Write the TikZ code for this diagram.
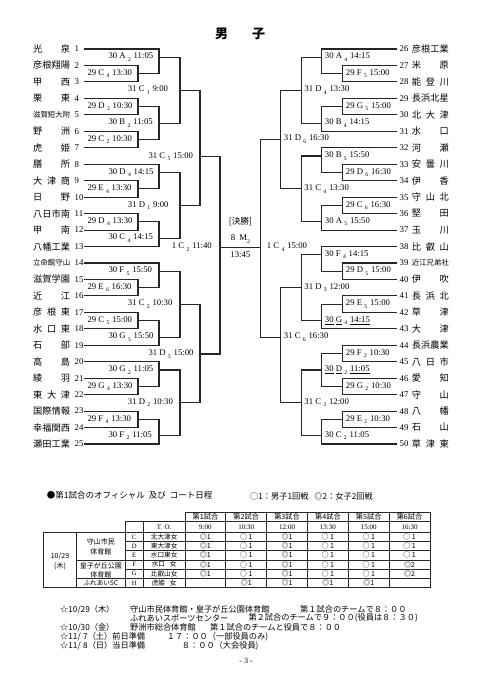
\documentclass[tikz,border=0pt]{standalone}
\usepackage{fontspec}
\setmainfont{Liberation Serif}
\newfontfamily\cjk{Noto Sans CJK JP}
\newcommand{\lb}[4]{#1 #2\hspace{2.4pt}\raisebox{-2.4pt}{\fontsize{5.7}{6}\selectfont #3}\hspace{2.8pt}#4}
\newcommand{\lbu}[4]{\underline{#1} \underline{#2}\hspace{2.4pt}\raisebox{-2.4pt}{\fontsize{5.7}{6}\selectfont #3}\hspace{2.8pt}\underline{#4}}
\newcommand{\tn}[1]{\makebox[37pt][s]{#1}}
\newcommand{\tns}[1]{\makebox[37pt][s]{\fontsize{7.4}{8}\selectfont #1}}
\newcommand{\mt}[5]{\draw[br] (#1,{#2}) -- (#1,{#3}); \draw[br] (#1,{#4}) -- (#5,{#4});}
\begin{document}
\begin{tikzpicture}[x=1pt,y=-1pt,
  declare function={ty(\i)=49+16.46*(\i-1); ry(\k)=49+16.46*(\k-26);
    pm(\a)=(ty(\a)+ty(\a+1))/2; rpm(\a)=(ry(\a)+ry(\a+1))/2;},
  br/.style={line width=1.1pt,draw=black!85,line cap=rect},
  lab/.style={font=\fontsize{8.7}{9}\selectfont,inner sep=0pt,anchor=west},
  tname/.style={font=\cjk\fontsize{9.2}{10}\selectfont,inner sep=0pt,anchor=west},
  tnum/.style={font=\fontsize{8.8}{10}\selectfont,inner sep=0pt,anchor=west},
  tb/.style={line width=0.8pt,draw=black!85},
  tt/.style={font=\cjk\fontsize{6.6}{7}\selectfont,inner sep=0pt},
  ts/.style={font=\fontsize{6.6}{7}\selectfont,inner sep=0pt},
  note/.style={font=\cjk\fontsize{8.2}{9}\selectfont,inner sep=0pt,anchor=west},
]
\useasboundingbox (0,0) rectangle (481,680);
\fill[white] (0,0) rectangle (481,680);

% title
\node[font=\cjk\bfseries\fontsize{13}{14}\selectfont,inner sep=0pt] (title) at (240,34) {男\hspace{24pt}子};

% ---------- left side ----------
\pgfmathsetmacro\lA{(ty(1)+ty(2))/2}
\pgfmathsetmacro\lB{(pm(4)+pm(6))/2}
\pgfmathsetmacro\lC{(ty(8)+ty(9))/2}
\pgfmathsetmacro\lD{(ty(12)+ty(13))/2}
\pgfmathsetmacro\lE{(ty(14)+ty(15))/2}
\pgfmathsetmacro\lF{(ty(18)+ty(19))/2}
\pgfmathsetmacro\lG{(ty(20)+ty(21))/2}
\pgfmathsetmacro\lH{(ty(24)+ty(25))/2}
\pgfmathsetmacro\lI{(\lA+\lB)/2}
\pgfmathsetmacro\lJ{(\lC+\lD)/2}
\pgfmathsetmacro\lK{(\lE+\lF)/2}
\pgfmathsetmacro\lL{(\lG+\lH)/2}
\def\lM{156.7}
\def\lN{354}
\def\fy{247.3}

\foreach \i in {2,3,4,5,6,7,9,10,11,12,15,16,17,18,21,22,23,24}
  \draw[br] (85,{ty(\i)}) -- (138,{ty(\i)});
\foreach \i in {1,8,13,14,19,20,25}
  \draw[br] (85,{ty(\i)}) -- (159,{ty(\i)});
\foreach \a in {2,4,6,9,11,15,17,21,23}
  \mt{138}{ty(\a)}{ty(\a+1)}{pm(\a)}{159}
\mt{159}{ty(1)}{pm(2)}{\lA}{180}
\mt{159}{pm(4)}{pm(6)}{\lB}{180}
\mt{159}{ty(8)}{pm(9)}{\lC}{180}
\mt{159}{pm(11)}{ty(13)}{\lD}{180}
\mt{159}{ty(14)}{pm(15)}{\lE}{180}
\mt{159}{pm(17)}{ty(19)}{\lF}{180}
\mt{159}{ty(20)}{pm(21)}{\lG}{180}
\mt{159}{pm(23)}{ty(25)}{\lH}{180}
\mt{180}{\lA}{\lB}{\lI}{200}
\mt{180}{\lC}{\lD}{\lJ}{200}
\mt{180}{\lE}{\lF}{\lK}{200}
\mt{180}{\lG}{\lH}{\lL}{200}
\mt{200}{\lI}{\lJ}{\lM}{220}
\mt{200}{\lK}{\lL}{\lN}{220}
\draw[br] (220,\lM) -- (220,\lN);

% ---------- right side ----------
\pgfmathsetmacro\rA{(ry(26)+ry(27))/2}
\pgfmathsetmacro\rB{(ry(30)+ry(31))/2}
\pgfmathsetmacro\rC{(ry(32)+ry(33))/2}
\pgfmathsetmacro\rD{(ry(36)+ry(37))/2}
\pgfmathsetmacro\rE{(ry(38)+ry(39))/2}
\pgfmathsetmacro\rF{(ry(42)+ry(43))/2}
\pgfmathsetmacro\rG{(rpm(44)+rpm(46))/2}
\pgfmathsetmacro\rH{(ry(49)+ry(50))/2}
\pgfmathsetmacro\rI{(\rA+\rB)/2}
\pgfmathsetmacro\rJ{(\rC+\rD)/2}
\pgfmathsetmacro\rK{(\rE+\rF)/2}
\pgfmathsetmacro\rL{(\rG+\rH)/2}
\def\rM{139.3}
\def\rN{337.3}

\foreach \i in {27,28,29,30,33,34,35,36,39,40,41,42,44,45,46,47,48,49}
  \draw[br] (342.7,{ry(\i)}) -- (396.7,{ry(\i)});
\foreach \i in {26,31,32,37,38,43,50}
  \draw[br] (321.7,{ry(\i)}) -- (396.7,{ry(\i)});
\foreach \a in {27,29,33,35,39,41,44,46,48}
  \mt{342.7}{ry(\a)}{ry(\a+1)}{rpm(\a)}{321.7}
\mt{321.7}{ry(26)}{rpm(27)}{\rA}{301.7}
\mt{321.7}{rpm(29)}{ry(31)}{\rB}{301.7}
\mt{321.7}{ry(32)}{rpm(33)}{\rC}{301.7}
\mt{321.7}{rpm(35)}{ry(37)}{\rD}{301.7}
\mt{321.7}{ry(38)}{rpm(39)}{\rE}{301.7}
\mt{321.7}{rpm(41)}{ry(43)}{\rF}{301.7}
\mt{321.7}{rpm(44)}{rpm(46)}{\rG}{301.7}
\mt{321.7}{rpm(48)}{ry(50)}{\rH}{301.7}
\mt{301.7}{\rA}{\rB}{\rI}{280.7}
\mt{301.7}{\rC}{\rD}{\rJ}{280.7}
\mt{301.7}{\rE}{\rF}{\rK}{280.7}
\mt{301.7}{\rG}{\rH}{\rL}{280.7}
\mt{280.7}{\rI}{\rJ}{\rM}{260.7}
\mt{280.7}{\rK}{\rL}{\rN}{260.7}
\draw[br] (260.7,\rM) -- (260.7,\rN);

% final
\draw[br] (220,\fy) -- (260.7,\fy);
\node[font=\cjk\fontsize{8.6}{9}\selectfont,inner sep=0pt] (fin1) at (240.4,221.7) {[決勝]};
\node[font=\fontsize{8.7}{9}\selectfont,inner sep=0pt] (fin2) at (240.4,239) {8\hspace{4pt}M\raisebox{-2.4pt}{\fontsize{5.7}{6}\selectfont 2}};
\node[font=\fontsize{8.7}{9}\selectfont,inner sep=0pt] (fin3) at (240.4,255) {13:45};
\node[lab] (finL) at (171.7,\fy) {\lb{1}{C}{2}{11:40}};
\node[lab] (finR) at (266.7,\fy) {\lb{1}{C}{4}{15:00}};

% team names left
\foreach \i/\n in {1/\tn{光\hfill 泉}, 2/\tn{彦根翔陽}, 3/\tn{甲\hfill 西}, 4/\tn{栗\hfill 東},
  5/\tns{滋賀短大附}, 6/\tn{野\hfill 洲}, 7/\tn{虎\hfill 姫}, 8/\tn{膳\hfill 所},
  9/\tn{大\hfill 津\hfill 商}, 10/\tn{日\hfill 野}, 11/\tn{八日市南}, 12/\tn{甲\hfill 南},
  13/\tn{八幡工業}, 14/\tns{立命館守山}, 15/\tn{滋賀学園}, 16/\tn{近\hfill 江},
  17/\tn{彦\hfill 根\hfill 東}, 18/\tn{水\hfill 口\hfill 東}, 19/\tn{石\hfill 部}, 20/\tn{高\hfill 島},
  21/\tn{綾\hfill 羽}, 22/\tn{東\hfill 大\hfill 津}, 23/\tn{国際情報}, 24/\tn{幸福関西}, 25/\tn{瀬田工業}}
{
  \node[tname] (ln\i) at (33,{ty(\i)}) {\n};
  \node[tnum] (lnum\i) at (74.5,{ty(\i)}) {\i};
}
% team names right
\foreach \i/\n in {26/\tn{彦根工業}, 27/\tn{米\hfill 原}, 28/\tn{能\hfill 登\hfill 川}, 29/\tn{長浜北星},
  30/\tn{北\hfill 大\hfill 津}, 31/\tn{水\hfill 口}, 32/\tn{河\hfill 瀬}, 33/\tn{安\hfill 曇\hfill 川},
  34/\tn{伊\hfill 香}, 35/\tn{守\hfill 山\hfill 北}, 36/\tn{堅\hfill 田}, 37/\tn{玉\hfill 川},
  38/\tn{比\hfill 叡\hfill 山}, 39/\tns{近江兄弟社}, 40/\tn{伊\hfill 吹}, 41/\tn{長\hfill 浜\hfill 北},
  42/\tn{草\hfill 津}, 43/\tn{大\hfill 津}, 44/\tn{長浜農業}, 45/\tn{八\hfill 日\hfill 市},
  46/\tn{愛\hfill 知}, 47/\tn{守\hfill 山}, 48/\tn{八\hfill 幡}, 49/\tn{石\hfill 山}, 50/\tn{草\hfill 津\hfill 東}}
{
  \node[tnum] (rnum\i) at (399.5,{ry(\i)}) {\i};
  \node[tname] (rn\i) at (411.7,{ry(\i)}) {\n};
}

% match labels left
\foreach \a/\c/\s/\t in {2/C/4/13:30, 4/D/2/10:30, 6/C/2/10:30, 9/E/4/13:30, 11/D/4/13:30,
  15/E/6/16:30, 17/C/5/15:00, 21/G/4/13:30, 23/F/4/13:30}
  \node[lab] (lp\a) at (87.3,{pm(\a)}) {\lb{29}{\c}{\s}{\t}};
\node[lab] (lA) at (108.3,\lA) {\lb{30}{A}{2}{11:05}};
\node[lab] (lB) at (108.3,\lB) {\lb{30}{B}{2}{11:05}};
\node[lab] (lC) at (108.3,\lC) {\lb{30}{D}{4}{14:15}};
\node[lab] (lD) at (108.3,\lD) {\lb{30}{C}{4}{14:15}};
\node[lab] (lE) at (108.3,\lE) {\lb{30}{F}{5}{15:50}};
\node[lab] (lF) at (108.3,\lF) {\lb{30}{G}{5}{15:50}};
\node[lab] (lG) at (108.3,\lG) {\lb{30}{G}{2}{11:05}};
\node[lab] (lH) at (108.3,\lH) {\lb{30}{F}{2}{11:05}};
\node[lab] (lI) at (127.7,\lI) {\lb{31}{C}{1}{9:00}};
\node[lab] (lJ) at (127.7,\lJ) {\lb{31}{D}{1}{9:00}};
\node[lab] (lK) at (127.7,\lK) {\lb{31}{C}{2}{10:30}};
\node[lab] (lL) at (127.7,\lL) {\lb{31}{D}{2}{10:30}};
\node[lab] (lM) at (148.3,\lM) {\lb{31}{C}{5}{15:00}};
\node[lab] (lN) at (148.3,\lN) {\lb{31}{D}{5}{15:00}};

% match labels right
\foreach \a/\c/\s/\t in {27/F/5/15:00, 29/G/5/15:00, 33/D/6/16:30, 35/C/6/16:30, 39/D/5/15:00,
  41/E/5/15:00, 44/F/2/10:30, 46/G/2/10:30, 48/E/2/10:30}
  \node[lab] (rp\a) at (345.7,{rpm(\a)}) {\lb{29}{\c}{\s}{\t}};
\node[lab] (rA) at (324.7,\rA) {\lb{30}{A}{4}{14:15}};
\node[lab] (rB) at (324.7,\rB) {\lb{30}{B}{4}{14:15}};
\node[lab] (rC) at (324.7,\rC) {\lb{30}{B}{5}{15:50}};
\node[lab] (rD) at (324.7,\rD) {\lb{30}{A}{5}{15:50}};
\node[lab] (rE) at (324.7,\rE) {\lb{30}{F}{4}{14:15}};
\node[lab] (rF) at (324.7,\rF) {\lbu{30}{G}{4}{14:15}};
\node[lab] (rG) at (324.7,\rG) {\lbu{30}{D}{2}{11:05}};
\node[lab] (rH) at (324.7,\rH) {\lb{30}{C}{2}{11:05}};
\node[lab] (rI) at (304.2,\rI) {\lb{31}{D}{4}{13:30}};
\node[lab] (rJ) at (304.2,\rJ) {\lb{31}{C}{4}{13:30}};
\node[lab] (rK) at (304.2,\rK) {\lb{31}{D}{3}{12:00}};
\node[lab] (rL) at (304.2,\rL) {\lb{31}{C}{3}{12:00}};
\node[lab] (rM) at (283.7,\rM) {\lb{31}{D}{6}{16:30}};
\node[lab] (rN) at (283.7,\rN) {\lb{31}{C}{6}{16:30}};

% ---------- schedule ----------
\node[note,font=\cjk\fontsize{8.5}{9}\selectfont] (sched) at (46.7,495) {●第1試合のオフィシャル\hspace{4pt}及び\hspace{4pt}コート日程};
\node[note] (legend) at (250,496) {○1：男子1回戦\hspace{6pt}◎2：女子2回戦};

% table grid
\draw[tb] (185,512.3) rectangle (430,521.7);
\draw[tb] (125,521.7) rectangle (430,532.3);
\draw[tb] (43.3,532.3) rectangle (430,587.5);
\foreach \k in {1,...,5}
  \draw[tb] ({185+40.83*\k},512.3) -- ({185+40.83*\k},587.5);
\draw[tb] (143.3,521.7) -- (143.3,587.5);
\draw[tb] (185,521.7) -- (185,587.5);
\draw[tb] (76.7,532.3) -- (76.7,587.5);
\draw[tb] (125,532.3) -- (125,587.5);
\foreach \r in {1,...,5}
  \draw[tb] (125,{532.3+9.2*\r}) -- (430,{532.3+9.2*\r});
\draw[tb] (76.7,{532.3+9.2*3}) -- (125,{532.3+9.2*3});
\draw[tb] (76.7,{532.3+9.2*5}) -- (125,{532.3+9.2*5});

% table header
\foreach \k/\t/\h in {0/第1試合/9:00, 1/第2試合/10:30, 2/第3試合/12:00, 3/第4試合/13:30, 4/第5試合/15:00, 5/第6試合/16:30}
{
  \node[tt,font=\cjk\fontsize{7.2}{8}\selectfont] (hd\k) at ({185+40.83*(\k+0.5)},517) {\t};
  \node[ts,font=\fontsize{7}{8}\selectfont] (tm\k) at ({185+40.83*(\k+0.5)},527) {\h};
}
\node[ts,font=\fontsize{7}{8}\selectfont] (to) at (164.15,527) {T.\hspace{2pt}O.};

% table rows
\foreach \r/\c/\t in {0/C/北大津女, 1/D/東大津女, 2/E/水口東女, 3/F/水口\hspace{5pt}女, 4/G/比叡山女, 5/H/虎姫\hspace{5pt}女}
{
  \node[ts] (ct\r) at (134.15,{532.3+9.2*(\r+0.5)}) {\c};
  \node[tt] (tn\r) at (164.15,{532.3+9.2*(\r+0.5)}) {\t};
}
\foreach \r/\v in {0/{◎1,○ 1,◎1,○ 1,○ 1,○ 1}, 1/{◎1,○ 1,◎1,○ 1,○ 1,○ 1}, 2/{◎1,○ 1,◎1,○ 1,○ 1,○ 1},
  3/{◎1,○ 1,◎1,○ 1,○ 1,◎2}, 4/{◎1,○ 1,◎1,○ 1,○ 1,◎2}, 5/{ ,◎1,◎1,◎1,◎1, }}
{
  \foreach \x [count=\k from 0] in \v
    \node[tt,font=\cjk\fontsize{7}{8}\selectfont] (d\r\k) at ({185+40.83*(\k+0.5)},{532.3+9.2*(\r+0.5)}) {\x};
}
\node[tt,font=\cjk\fontsize{7}{9.4}\selectfont,align=center] (v1) at (100.85,546.8) {守山市民\\体育館};
\node[tt,font=\cjk\fontsize{7}{9.2}\selectfont,align=center] (v2) at (100.85,570.5) {皇子が丘公園\\体育館};
\node[tt,font=\cjk\fontsize{6.6}{7}\selectfont] (v3) at (100.85,582.9) {ふれあいSC};
\node[tt,font=\cjk\fontsize{7}{9.4}\selectfont,align=center] (date) at (60,561.5) {10/29\\(木)};

% notes
\node[note] (n1a) at (60,609.3) {☆10/29（木）};
\node[note] (n1b) at (130,609.3) {守山市民体育館・皇子が丘公園体育館};
\node[note] (n1c) at (300,609.3) {第１試合のチームで８：００};
\node[note] (n2b) at (130,618.3) {ふれあいスポーツセンター};
\node[note] (n2c) at (248.3,618.3) {第２試合のチームで９：００(役員は８：３０)};
\node[note] (n3a) at (60,627.7) {☆10/30（金）};
\node[note] (n3b) at (130,627.7) {野洲市総合体育館};
\node[note] (n3c) at (210,627.7) {第１試合のチームと役員で８：００};
\node[note] (n4a) at (60,636.7) {☆11/\hspace{2.5pt}7（土）前日準備};
\node[note] (n4c) at (166.7,636.7) {１７：００（一部役員のみ)};
\node[note] (n5a) at (60,645.7) {☆11/\hspace{2.5pt}8（日）当日準備};
\node[note] (n5c) at (181.7,645.7) {８：００（大会役員)};
\node[font=\fontsize{8}{9}\selectfont,inner sep=0pt] (page) at (246,661) {- 3 -};
\end{tikzpicture}
\end{document}
